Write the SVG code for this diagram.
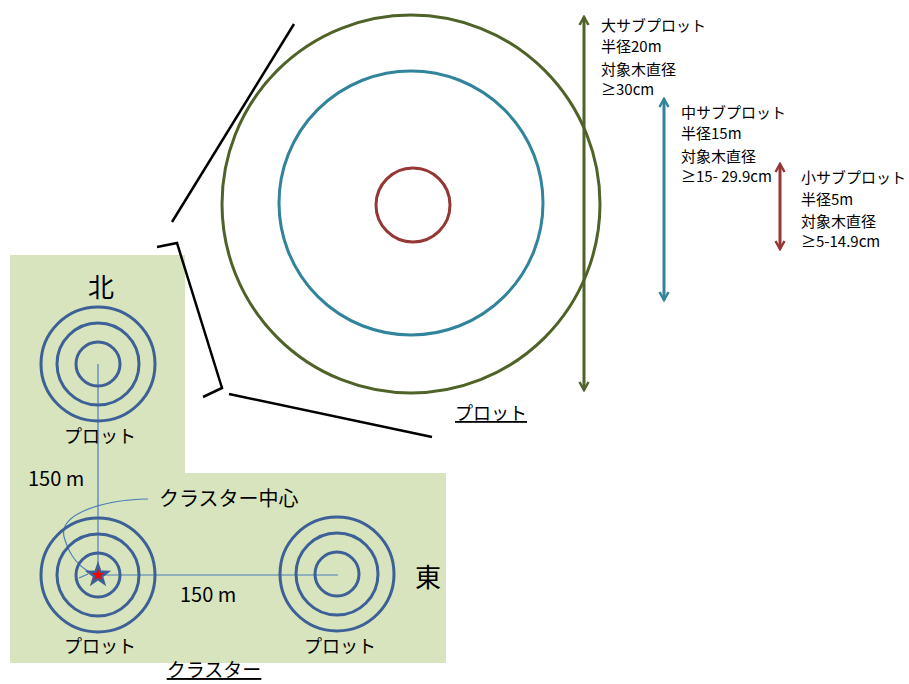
<svg xmlns="http://www.w3.org/2000/svg" width="909" height="684" viewBox="0 0 909 684">
<defs>
<style>
text{font-family:"Noto Sans CJK JP","Noto Sans",sans-serif;fill:#000}
.lbl{font-size:15px}
.sm{font-size:15px}
.plot{font-size:18px}
.ring{fill:none;stroke:#3D6097;stroke-width:3}
.thin{fill:none;stroke:#4A7EBB;stroke-width:1.2}
.blk{fill:none;stroke:#000;stroke-width:2.5}
</style>
<marker id="ag" viewBox="0 0 12 12" refX="10" refY="6" markerWidth="12" markerHeight="12" markerUnits="userSpaceOnUse" orient="auto-start-reverse"><path d="M2,1.5 L10,6 L2,10.5" fill="none" stroke="#4F6228" stroke-width="2.5"/></marker>
<marker id="ab" viewBox="0 0 12 12" refX="10" refY="6" markerWidth="12" markerHeight="12" markerUnits="userSpaceOnUse" orient="auto-start-reverse"><path d="M2,1.5 L10,6 L2,10.5" fill="none" stroke="#31849B" stroke-width="2.5"/></marker>
<marker id="ar" viewBox="0 0 12 12" refX="10" refY="6" markerWidth="12" markerHeight="12" markerUnits="userSpaceOnUse" orient="auto-start-reverse"><path d="M2,1.5 L10,6 L2,10.5" fill="none" stroke="#953735" stroke-width="2.5"/></marker>
</defs>

<g id="cluster-bg">
<path d="M10,255 H185 V473 H446 V663 H10 Z" fill="#D7E4BD"/>
</g>

<g id="big-plot">
<circle cx="411" cy="204" r="189" fill="none" stroke="#4F6228" stroke-width="3"/>
<circle cx="411" cy="203" r="132" fill="none" stroke="#31849B" stroke-width="3"/>
<circle cx="413" cy="205" r="37" fill="none" stroke="#953735" stroke-width="3"/>
<text x="491" y="420" class="plot" text-anchor="middle" text-decoration="underline">プロット</text>
</g>

<g id="zoom-lines">
<line x1="294" y1="24" x2="172" y2="222" class="blk"/>
<polyline points="157,247 177,243 222,388 203,397" class="blk"/>
<line x1="229" y1="394" x2="432" y2="437" class="blk"/>
</g>

<g id="connectors">
<line x1="98" y1="364" x2="98" y2="575" class="thin"/>
<line x1="98" y1="575" x2="338" y2="575" class="thin"/>
<path d="M148,499 C100,500 55,515 65,540 C70,556 80,568 92,573" class="thin"/>
<path d="M79,578 L88,574" class="thin"/>
<line x1="584" y1="17" x2="584" y2="390" stroke="#4F6228" stroke-width="3" marker-start="url(#ag)" marker-end="url(#ag)"/>
<line x1="664" y1="99" x2="664" y2="300" stroke="#31849B" stroke-width="3" marker-start="url(#ab)" marker-end="url(#ab)"/>
<line x1="780" y1="164" x2="780" y2="249" stroke="#953735" stroke-width="3" marker-start="url(#ar)" marker-end="url(#ar)"/>
</g>

<g id="plot-north">
<circle cx="98" cy="364" r="57" class="ring"/>
<circle cx="98" cy="364" r="41" class="ring"/>
<circle cx="98" cy="364" r="22" class="ring"/>
<text x="100" y="443" class="plot" text-anchor="middle">プロット</text>
</g>

<g id="plot-center">
<circle cx="98" cy="575" r="57" class="ring"/>
<circle cx="98" cy="575" r="41" class="ring"/>
<circle cx="98" cy="575" r="22" class="ring"/>
<polygon points="98,561 101.3,570.5 111.3,570.7 103.3,576.7 106.2,586.3 98,580.5 89.8,586.3 92.7,576.7 84.7,570.7 94.7,570.5" fill="#3D6097"/>
<polygon points="98,568.5 99.5,573 104.2,573 100.4,575.8 101.8,580.3 98,577.6 94.2,580.3 95.6,575.8 91.8,573 96.5,573" fill="#FF0000"/>
<text x="100" y="653" class="plot" text-anchor="middle">プロット</text>
</g>

<g id="plot-east">
<circle cx="337" cy="574" r="57" class="ring"/>
<circle cx="337" cy="574" r="41" class="ring"/>
<circle cx="337" cy="574" r="22" class="ring"/>
<text x="340" y="653" class="plot" text-anchor="middle">プロット</text>
</g>

<g id="labels">
<text x="101" y="297" font-size="26" text-anchor="middle">北</text>
<text x="428" y="587" font-size="26" text-anchor="middle">東</text>
<text x="28" y="486" font-size="20">150 m</text>
<text x="180" y="602" font-size="20">150 m</text>
<text x="159" y="506" font-size="20">クラスター中心</text>
<text x="214" y="677" font-size="19" text-anchor="middle" text-decoration="underline">クラスター</text>
</g>

<g id="label-large">
<text x="601" y="31" class="lbl">大サブプロット</text>
<text x="601" y="52" class="lbl">半径20m</text>
<text x="601" y="75" class="lbl">対象木直径</text>
<text x="601" y="95" class="sm">≥30cm</text>
</g>
<g id="label-medium">
<text x="681" y="118" class="lbl">中サブプロット</text>
<text x="681" y="139" class="lbl">半径15m</text>
<text x="681" y="162" class="lbl">対象木直径</text>
<text x="681" y="182" class="sm">≥15- 29.9cm</text>
</g>
<g id="label-small">
<text x="801" y="183" class="lbl">小サブプロット</text>
<text x="801" y="205" class="lbl">半径5m</text>
<text x="801" y="227" class="lbl">対象木直径</text>
<text x="801" y="247" class="sm">≥5-14.9cm</text>
</g>
</svg>
